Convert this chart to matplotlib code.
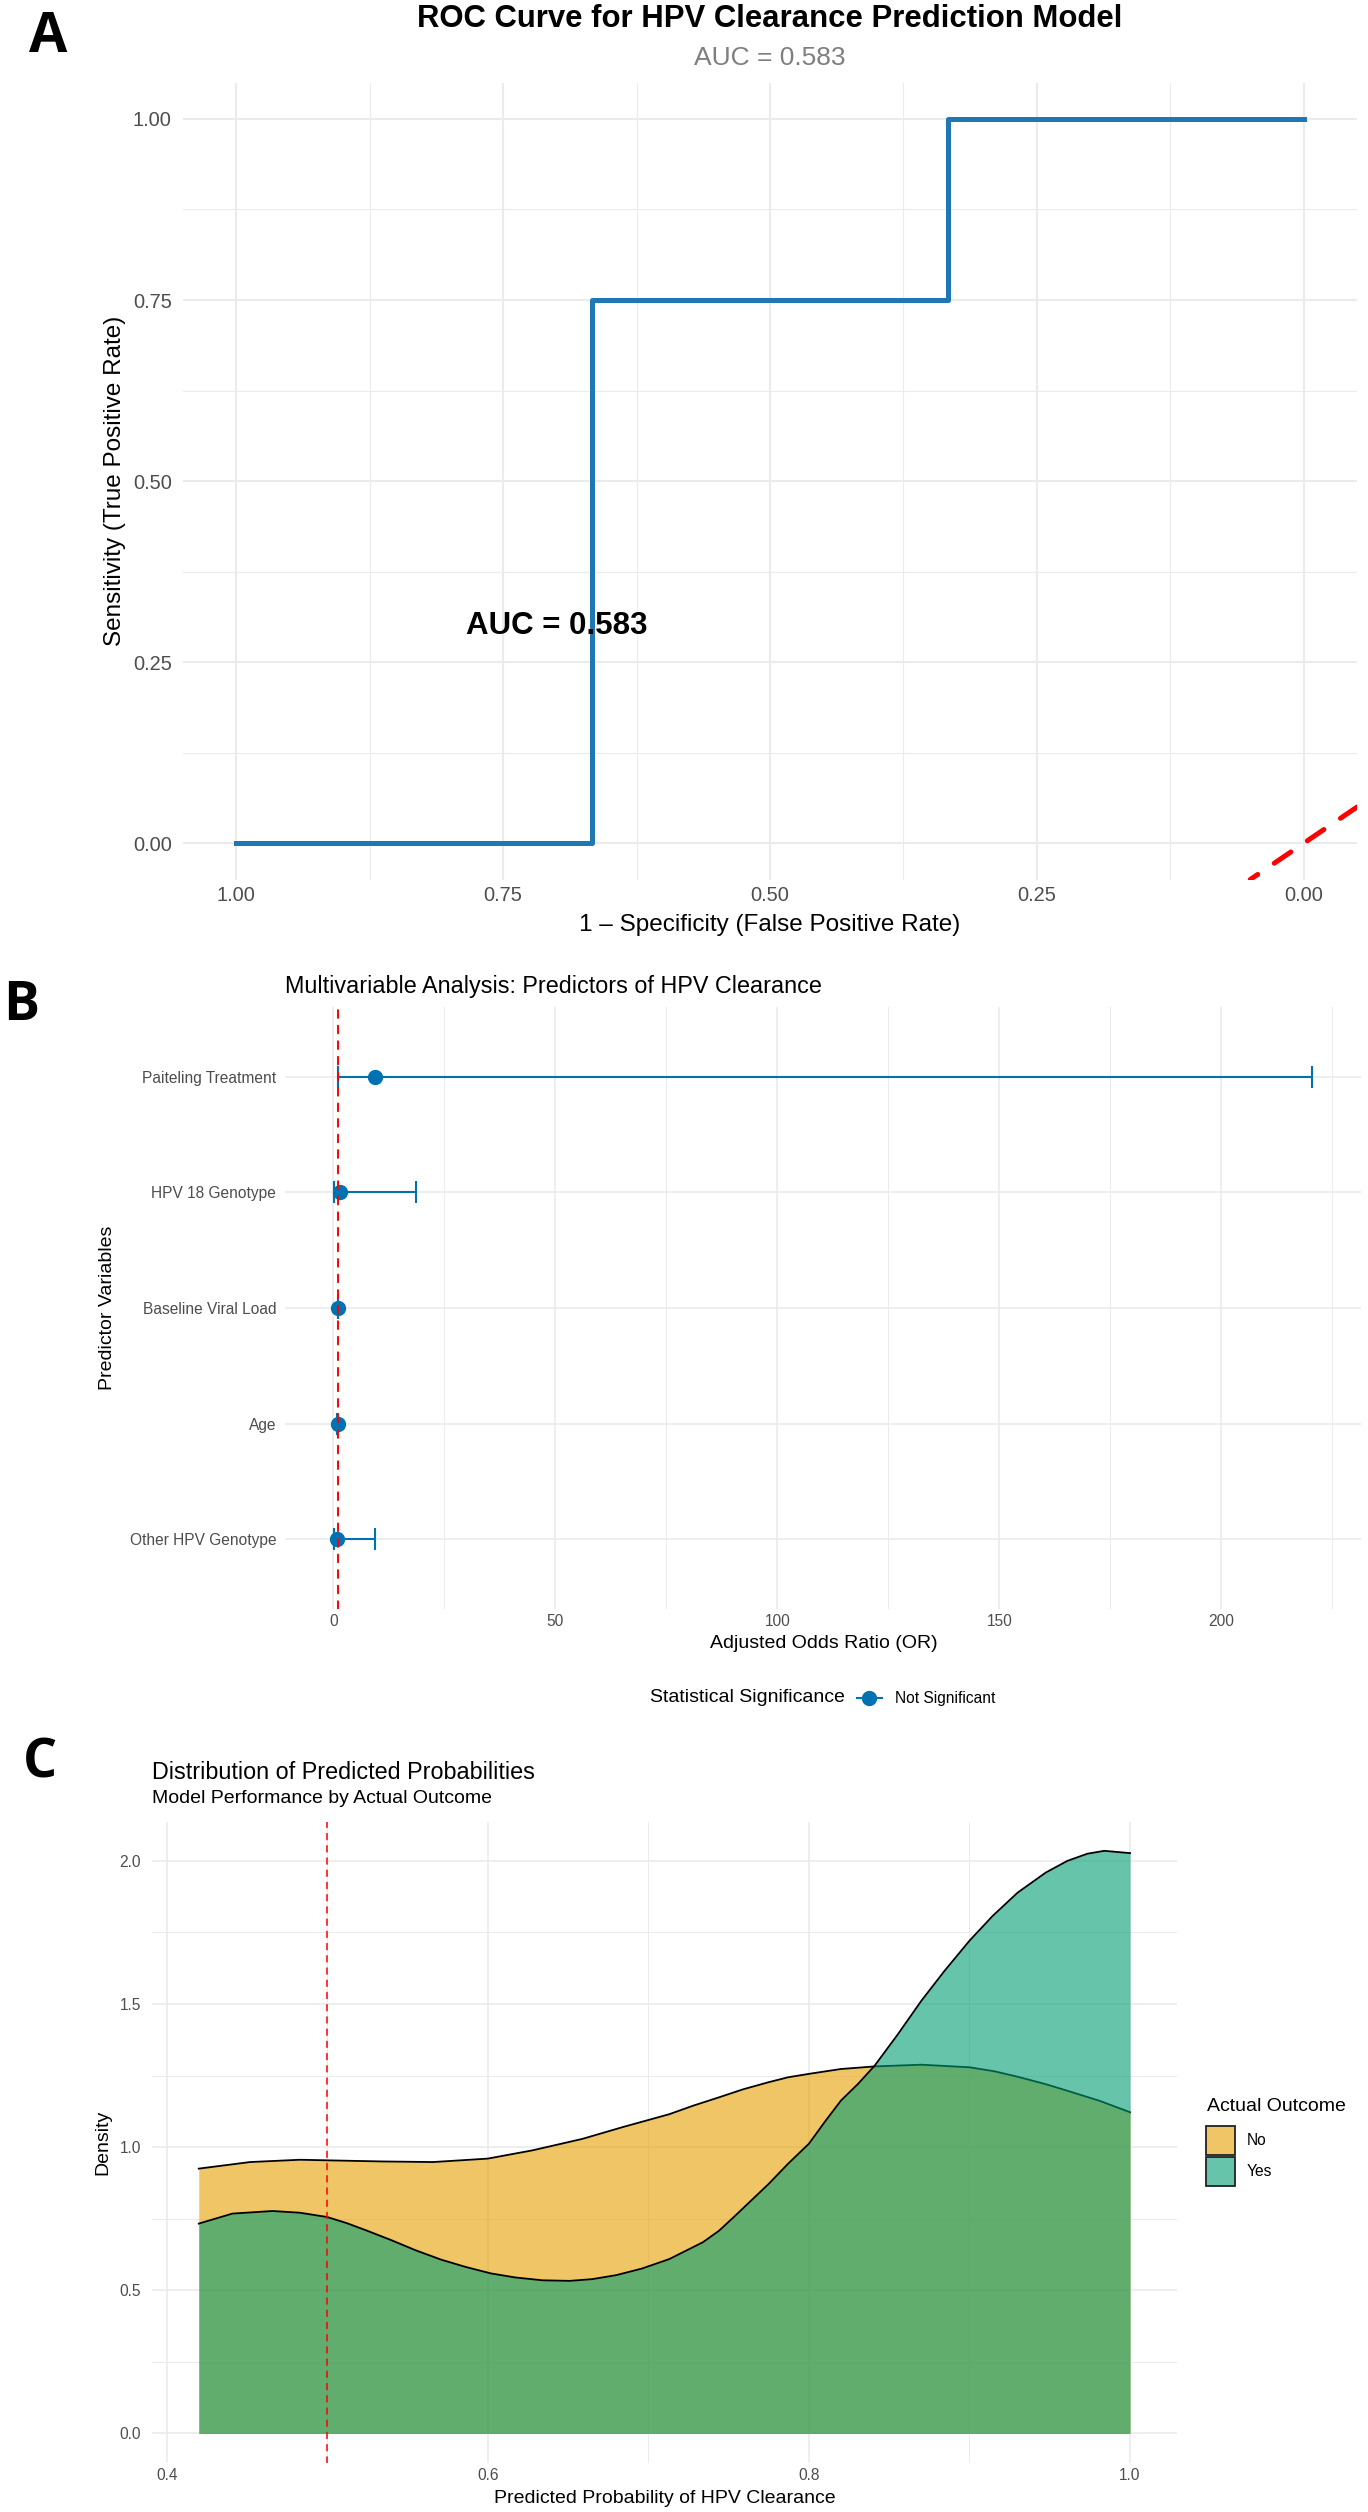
import matplotlib
matplotlib.use('Agg')
import matplotlib.pyplot as plt
from matplotlib.lines import Line2D
from matplotlib.patches import Rectangle
from matplotlib.colors import to_rgba

plt.rcParams['font.family'] = ['Liberation Sans', 'DejaVu Sans']

# Panel A - ROC curve (x axis is specificity, drawn reversed)
roc_specificity = [1.0, 0.667, 0.667, 0.333, 0.333, 0.0]
roc_sensitivity = [0.0, 0.0, 0.75, 0.75, 1.0, 1.0]
auc_value = 0.583

# Panel B - adjusted odds ratios
predictors = ['Paiteling Treatment', 'HPV 18 Genotype', 'Baseline Viral Load',
              'Age', 'Other HPV Genotype']
odds_ratio = [9.4, 1.5, 1.0, 0.98, 0.76]
ci_lower = [0.95, 0.12, 0.98, 0.90, 0.05]
ci_upper = [220.3, 18.7, 1.02, 1.07, 9.3]
significance_label = 'Not Significant'

# Panel C - density of predicted probabilities by outcome
prob_no = [0.42, 0.452, 0.483, 0.5, 0.535, 0.566, 0.6, 0.628, 0.659, 0.684, 0.713,
           0.728, 0.744, 0.759, 0.775, 0.787, 0.8, 0.82, 0.841, 0.87, 0.9, 0.9155,
           0.93, 0.9475, 0.961, 0.981, 1.0]
density_no = [0.925, 0.948, 0.956, 0.954, 0.950, 0.948, 0.960, 0.989, 1.029, 1.070, 1.115,
              1.145, 1.174, 1.202, 1.227, 1.244, 1.256, 1.273, 1.282, 1.288, 1.279, 1.265,
              1.246, 1.220, 1.197, 1.162, 1.122]
prob_yes = [0.42, 0.441, 0.466, 0.483, 0.5, 0.512, 0.524, 0.540, 0.555, 0.571, 0.586,
            0.602, 0.617, 0.634, 0.651, 0.665, 0.680, 0.696, 0.713, 0.734, 0.744, 0.754,
            0.775, 0.787, 0.8, 0.8105, 0.82, 0.8306, 0.841, 0.8555, 0.87, 0.8845, 0.9,
            0.9145, 0.93, 0.9475, 0.961, 0.9735, 0.984, 1.0]
density_yes = [0.733, 0.768, 0.777, 0.771, 0.756, 0.735, 0.710, 0.675, 0.640, 0.607, 0.582,
               0.559, 0.545, 0.535, 0.533, 0.539, 0.553, 0.576, 0.609, 0.668, 0.708, 0.760,
               0.872, 0.942, 1.012, 1.093, 1.163, 1.221, 1.285, 1.395, 1.511, 1.616, 1.721,
               1.808, 1.889, 1.959, 2.000, 2.025, 2.035, 2.027]
outcome_labels = ['No', 'Yes']
outcome_colors = ['#E69F00', '#009E73']
threshold = 0.5

W, H = 1368, 2512
fig = plt.figure(figsize=(W / 100, H / 100), dpi=100)


def box(l, t, r, b):
    return [l / W, 1 - b / H, (r - l) / W, (b - t) / H]


def fx(x):
    return x / W


def fy(y):
    return 1 - y / H


GRID = '#EBEBEB'
TICK = '#4D4D4D'
LABEL_FONT = ['Open Sans', 'DejaVu Sans']


def minimal(ax, size, pad_x, pad_y, major_lw, minor_lw):
    for s in ax.spines.values():
        s.set_visible(False)
    ax.set_axisbelow(True)
    ax.tick_params(which='both', length=0, labelsize=size, labelcolor=TICK)
    ax.tick_params(axis='x', pad=pad_x)
    ax.tick_params(axis='y', pad=pad_y)
    ax.grid(which='major', color=GRID, lw=major_lw)
    ax.grid(which='minor', color=GRID, lw=minor_lw)


def expand(lo, hi, f=0.05):
    r = hi - lo
    return lo - f * r, hi + f * r


# ---------------- Panel A ----------------
ax1 = fig.add_axes(box(183, 82.7, 1357, 879.5))
ax1.plot(roc_specificity, roc_sensitivity, color='#1F77B4', lw=3.6, zorder=3)
ax1.axline((0, 0), slope=-1, color='red', lw=3.6, ls=(0, (4, 4)),
           dash_capstyle='round', zorder=3)
xlo, xhi = expand(min(roc_specificity), max(roc_specificity))
ax1.set_xlim(xhi, xlo)
ax1.set_ylim(*expand(min(roc_sensitivity), max(roc_sensitivity)))
ticks_a = [0, 0.25, 0.5, 0.75, 1.0]
ax1.set_xticks(ticks_a, [f'{t:.2f}' for t in ticks_a])
ax1.set_yticks(ticks_a, [f'{t:.2f}' for t in ticks_a])
ax1.set_xticks([0.125, 0.375, 0.625, 0.875], minor=True)
ax1.set_yticks([0.125, 0.375, 0.625, 0.875], minor=True)
minimal(ax1, 14.4, 5, 8.1, 1.45, 0.8)
ax1.text(0.7, 0.3, f'AUC = {auc_value:.3f}', ha='center', va='center',
         fontsize=22.5, fontweight='bold', zorder=5)

fig.text(fx(770), fy(27.3), 'ROC Curve for HPV Clearance Prediction Model',
         ha='center', va='baseline', fontsize=22.4, fontweight='bold')
fig.text(fx(770), fy(65), f'AUC = {auc_value:.3f}', ha='center', va='baseline',
         fontsize=19, color='#7F7F7F')
fig.text(fx(770), fy(925), '1 \u2013 Specificity (False Positive Rate)',
         ha='center', va='center', fontsize=17.5)
fig.text(fx(115), fy(481), 'Sensitivity (True Positive Rate)', rotation=90,
         ha='center', va='center', fontsize=17.5)
fig.text(fx(29), fy(51.7), 'A', fontsize=40, fontweight='bold', family=LABEL_FONT,
         va='baseline')

# ---------------- Panel B ----------------
ax2 = fig.add_axes(box(284.6, 1007.3, 1360.5, 1608.5))
ypos = list(range(len(predictors), 0, -1))
xerr = [[o - l for o, l in zip(odds_ratio, ci_lower)],
        [u - o for o, u in zip(odds_ratio, ci_upper)]]
ax2.errorbar(odds_ratio, ypos, xerr=xerr, fmt='o', color='#0072B2', ms=10,
             elinewidth=1.5, capsize=8.2, capthick=1.5, zorder=3)
ax2.axvline(1, color='red', lw=1.4, ls=(0, (4, 4)), dash_capstyle='round', zorder=4)
ax2.set_xlim(*expand(min(ci_lower), max(ci_upper)))
ax2.set_ylim(0.4, len(predictors) + 0.6)
ax2.set_xticks([0, 50, 100, 150, 200])
ax2.set_xticks([25, 75, 125, 175, 225], minor=True)
ax2.set_yticks(ypos, predictors)
minimal(ax2, 11.2, 4.3, 6, 1.2, 0.7)
ax2.grid(which='minor', axis='y', visible=False)

fig.text(fx(284.6), fy(993), 'Multivariable Analysis: Predictors of HPV Clearance',
         ha='left', va='baseline', fontsize=16.8)
fig.text(fx(824), fy(1644), 'Adjusted Odds Ratio (OR)', ha='center', va='center',
         fontsize=14)
fig.text(fx(108), fy(1308), 'Predictor Variables', rotation=90, ha='center',
         va='center', fontsize=14)
fig.text(fx(650), fy(1698), 'Statistical Significance', ha='left', va='center',
         fontsize=14)
fig.add_artist(Line2D([fx(857), fx(881.6)], [fy(1698), fy(1698)],
                      transform=fig.transFigure, color='#0072B2', lw=1.5))
fig.add_artist(Line2D([fx(869.3)], [fy(1698)], transform=fig.transFigure,
                      marker='o', ms=10, color='#0072B2', lw=0))
fig.text(fx(894.9), fy(1698), significance_label, ha='left', va='center',
         fontsize=11.2)
fig.text(fx(3), fy(1020), 'B', fontsize=38.6, fontweight='bold', family=LABEL_FONT,
         va='baseline')

# ---------------- Panel C ----------------
ax3 = fig.add_axes(box(152.2, 1821.7, 1176.6, 2462.6))
series = [(prob_no, density_no), (prob_yes, density_yes)]
for (probs, dens), col in zip(series, outcome_colors):
    ax3.fill_between(probs, 0, dens, color=col, alpha=0.6, lw=0, zorder=2)
    ax3.plot(probs, dens, color='black', lw=1.3, zorder=2)
ax3.axvline(threshold, color='red', lw=1.1, ls=(0, (4, 4)), dash_capstyle='round',
            zorder=4)
ax3.set_xlim(*expand(min(prob_no + prob_yes), max(prob_no + prob_yes)))
ax3.set_ylim(*expand(0, max(density_no + density_yes)))
ax3.set_xticks([0.4, 0.6, 0.8, 1.0], ['0.4', '0.6', '0.8', '1.0'])
ax3.set_xticks([0.5, 0.7, 0.9], minor=True)
ax3.set_yticks([0, 0.5, 1.0, 1.5, 2.0], ['0.0', '0.5', '1.0', '1.5', '2.0'])
ax3.set_yticks([0.25, 0.75, 1.25, 1.75], minor=True)
minimal(ax3, 11.2, 3.6, 8, 1.2, 0.7)

fig.text(fx(152.2), fy(1778.7), 'Distribution of Predicted Probabilities',
         ha='left', va='baseline', fontsize=16.8)
fig.text(fx(152.2), fy(1802.6), 'Model Performance by Actual Outcome',
         ha='left', va='baseline', fontsize=14)
fig.text(fx(664.4), fy(2498.5), 'Predicted Probability of HPV Clearance',
         ha='center', va='center', fontsize=14)
fig.text(fx(102.5), fy(2142), 'Density', rotation=90, ha='center', va='center',
         fontsize=14)
fig.text(fx(1207), fy(2106.7), 'Actual Outcome', ha='left', va='center', fontsize=14)
key_tops = [2126, 2156.7]
for top, col, lab in zip(key_tops, outcome_colors, outcome_labels):
    fig.add_artist(Rectangle((fx(1206), fy(top + 29)), 29 / W, 29 / H,
                             transform=fig.transFigure, facecolor=to_rgba(col, 0.6),
                             edgecolor='#222222', lw=1.3))
    fig.text(fx(1246.7), fy(top + 14.5), lab, ha='left', va='center', fontsize=11.2)
fig.text(fx(23), fy(1777), 'C', fontsize=38.6, fontweight='bold', family=LABEL_FONT,
         va='baseline')

fig.savefig('out.png', dpi=100)
